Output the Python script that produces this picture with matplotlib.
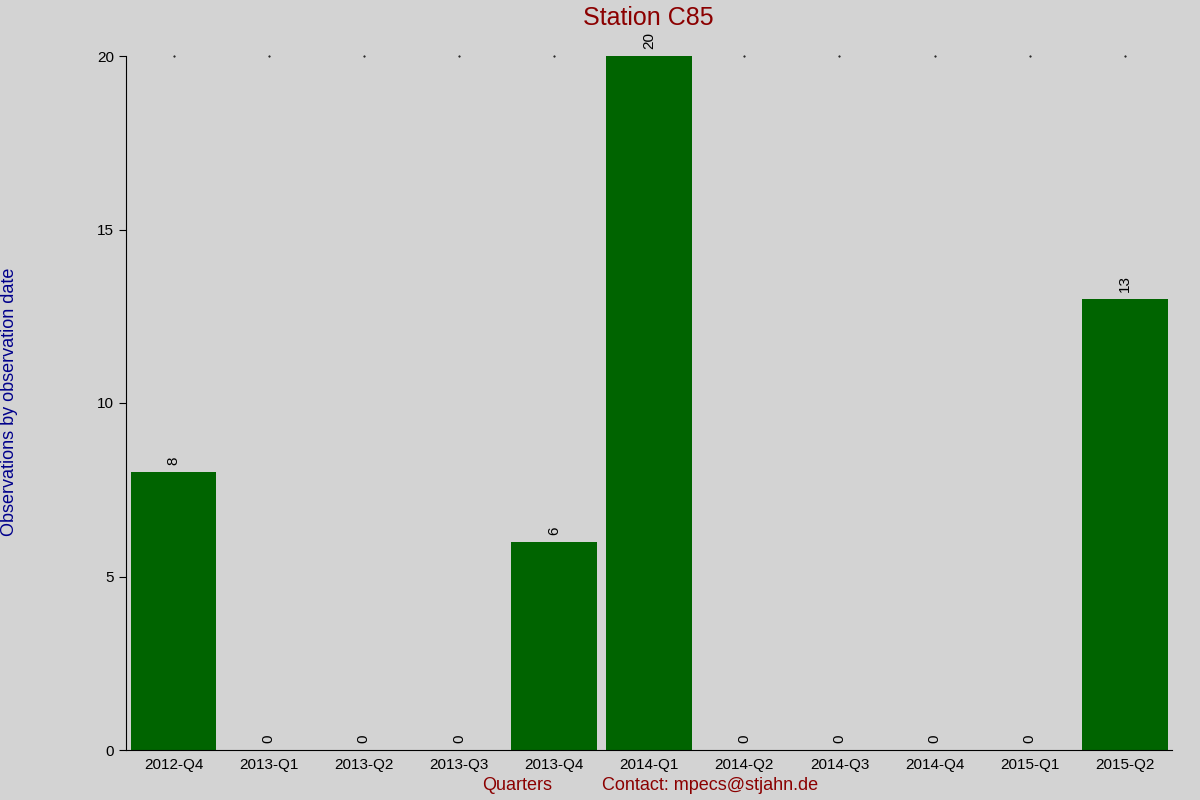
import matplotlib
matplotlib.use("Agg")
import matplotlib.pyplot as plt

categories = ["2012-Q4","2013-Q1","2013-Q2","2013-Q3","2013-Q4","2014-Q1","2014-Q2","2014-Q3","2014-Q4","2015-Q1","2015-Q2"]
values = [8,0,0,0,6,20,0,0,0,0,13]

plt.rcParams['font.family'] = ['Liberation Sans', 'DejaVu Sans']
fig = plt.figure(figsize=(12,8), dpi=100, facecolor='#d3d3d3')
ax = fig.add_axes([0.105, 0.0625, 0.872, 0.8675])
ax.set_facecolor('#d3d3d3')
x = list(range(len(categories)))
ax.bar(x, values, width=0.9, color='#006400', zorder=2)
for xi, v in zip(x, values):
    ax.text(xi, v + 0.2, str(v), rotation=90, ha='center', va='bottom', fontsize=11, color='black', zorder=4)
ax.set_xlim(-0.5, len(categories) - 0.5)
ax.set_ylim(0, 20)
ax.set_yticks([0,5,10,15,20])
ax.set_xticks(x)
ax.set_xticklabels(categories, fontsize=11)
ax.tick_params(axis='y', labelsize=11, length=5, direction='out')
ax.tick_params(axis='x', length=0, pad=6)
for s in ['top','right']:
    ax.spines[s].set_visible(False)
for xi, v in zip(x, values):
    if v < 20:
        ax.plot(xi, 20, marker='.', markersize=1.0, color='black', clip_on=False, zorder=1)
fig.text(0.54, 1-18/800, "Station C85", color='#8b0000', fontsize=18, ha='center', va='center')
fig.text(10/1200, 1-402/800, "Observations by observation date", color='#00008b', fontsize=13,
         rotation=90, ha='center', va='center')
fig.text(517/1200, 1-786/800, "Quarters", color='#8b0000', fontsize=13, ha='center', va='center')
fig.text(710/1200, 1-786/800, "Contact: mpecs@stjahn.de", color='#8b0000', fontsize=13, ha='center', va='center')
fig.savefig("out.png", dpi=100, facecolor=fig.get_facecolor())
